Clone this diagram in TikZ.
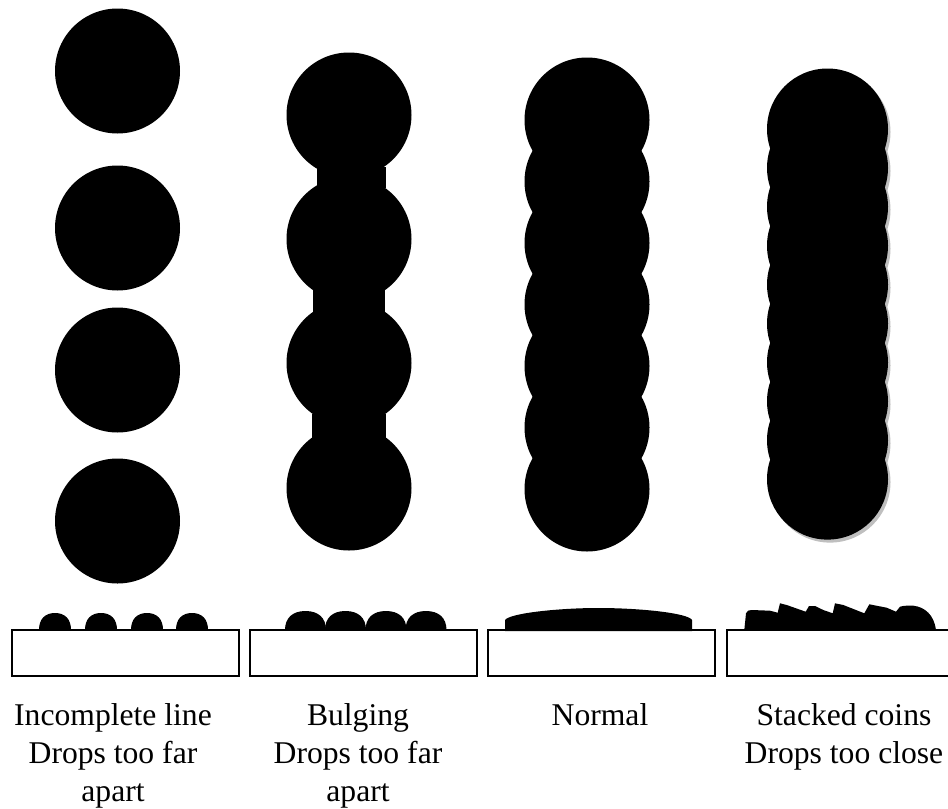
\documentclass[tikz,border=0pt]{standalone}
\usepackage{fontspec}
\setmainfont{Liberation Serif}
\tikzset{
  dot/.style={fill=black},
  halo/.style={fill=black!25},
  base/.style={draw=black, line width=1.5pt, fill=white},
  caption/.style={anchor=north, align=center, inner sep=0pt, font=\fontsize{27}{32.4}\selectfont}
}
\begin{document}
\begin{tikzpicture}[x=0.03cm, y=-0.03cm]
  \useasboundingbox (0,0) rectangle (948,808);
  \clip (0,0) rectangle (948,808);
  % first column: single round drops, nothing touches
  \foreach \y in {71,228,370,521} \fill[dot] (117.5,\y) circle (62.5);
  % second column: drops with a neck in between
  \foreach \y in {115,239,363,488} \fill[dot] (349,\y) circle (62.5);
  \fill[dot] (317,167) rectangle (386,188);
  \fill[dot] (313,290) rectangle (385,314);
  \fill[dot] (312,414) rectangle (386,438);
  % third column: even overlap
  \foreach \y in {120,181.5,243,304.5,366,427.5,489} \fill[dot] (587,\y) circle (62.5);
  % fourth column: tight overlap, with a grey edge on the lower right
  \foreach \k in {0,...,9} \fill[halo] (830,{132+38.9*\k}) circle (60.5);
  \foreach \k in {0,...,9} \fill[dot] (827.5,{129+38.9*\k}) circle (60.5);
  % the four substrates
  \foreach \x/\w in {12/227,250/227,488/227,727/240}
    \draw[base] (\x,630) rectangle (\x+\w,676);
  % profiles on the substrates
  \foreach \x in {39,85,131,176}
    \fill[dot] (\x,630) .. controls (\x,619) and (\x+6,613) .. (\x+16,613)
      .. controls (\x+26,613) and (\x+32,619) .. (\x+32,630) -- cycle;
  \foreach \x in {305.5,345.5,386,426}
    \fill[dot] (\x-20.5,630) .. controls (\x-20.5,618) and (\x-13,611) .. (\x,611)
      .. controls (\x+13,611) and (\x+20.5,618) .. (\x+20.5,630) -- cycle;
  \fill[dot] (505,631) -- (505,620) .. controls (510,613) and (560,608) .. (598,608)
    .. controls (640,608) and (688,613) .. (692,620) -- (692,631) -- cycle;
  \fill[dot] (744.3,630) -- (746,613.3) .. controls (747,610.5) and (749,610) .. (751.7,610)
    -- (770,610.7) -- (777.7,612.7) -- (780,603.3) -- (786.7,605) -- (805.7,611.7)
    -- (809,606) -- (815,606) -- (823.3,610) -- (832.7,613.3) -- (835,603.3) -- (843.3,605)
    -- (864.3,613.3) -- (869.3,604.3) -- (886.7,607.7) -- (896,611.7) -- (900,606.7)
    .. controls (904,605.5) and (909,605.5) .. (913.3,605.7)
    .. controls (925,607) and (934,615) .. (936,630) -- cycle;
  % captions
  \node[caption] (incomplete) at (113,703) {Incomplete line\\Drops too far\\apart};
  \node[caption] (bulging) at (358,703) {Bulging\\Drops too far\\apart};
  \node[caption] (normal) at (600,703) {Normal};
  \node[caption] (stacked) at (844,703) {Stacked coins\\Drops too close};
\end{tikzpicture}
\end{document}
